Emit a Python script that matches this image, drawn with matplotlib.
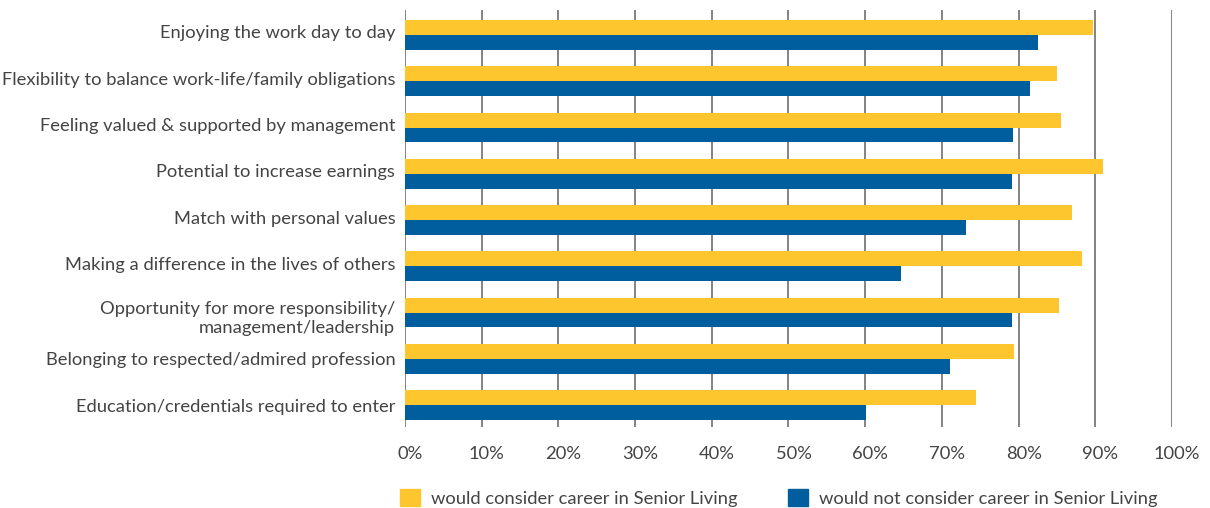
import matplotlib.pyplot as plt
import matplotlib.transforms as mtransforms
import numpy as np
from matplotlib.patches import Patch

plt.rcParams['font.family'] = ['Lato', 'DejaVu Sans']

# survey answers, top to bottom
categories = [
    "Enjoying the work day to day",
    "Flexibility to balance work-life/family obligations",
    "Feeling valued & supported by management",
    "Potential to increase earnings",
    "Match with personal values",
    "Making a difference in the lives of others",
    "Opportunity for more responsibility/\nmanagement/leadership",
    "Belonging to respected/admired profession",
    "Education/credentials required to enter",
]
would_consider = [89.7, 85.0, 85.5, 91.0, 87.0, 88.3, 85.3, 79.4, 74.4]
would_not_consider = [82.5, 81.5, 79.3, 79.1, 73.1, 64.7, 79.1, 71.1, 60.1]
xticks = [0, 10, 20, 30, 40, 50, 60, 70, 80, 90, 100]

yellow = '#FDC52E'
blue = '#005E9E'
txt = '#444444'

fig = plt.figure(figsize=(12.1, 5.08), dpi=100)
ax = fig.add_axes([0.3347, 0.1594, 0.6339, 0.8209])

y = np.arange(len(categories))
h = 0.32
ax.barh(y - h / 2, would_consider, height=h, color=yellow, zorder=2)
ax.barh(y + h / 2, would_not_consider, height=h, color=blue, zorder=2)

for t in xticks:
    ax.axvline(t, color='#6e6e6e', lw=1.2, zorder=1)

ax.set_xlim(0, 100)
ax.set_ylim(8.475, -0.54)
ax.set_yticks(y)
ax.set_yticklabels(categories, fontsize=13.2, color=txt)
ax.set_xticks(xticks)
ax.set_xticklabels([f"{t}%" for t in xticks], fontsize=13.2, color=txt)
ax.tick_params(axis='y', length=0, pad=7)
ax.tick_params(axis='x', length=0, pad=14)
for s in ax.spines.values():
    s.set_visible(False)
# upper labels sit a touch above their bar pair, the two-line one a touch below
up = mtransforms.ScaledTranslation(0, 3 / 100, fig.dpi_scale_trans)
down = mtransforms.ScaledTranslation(0, -3 / 100, fig.dpi_scale_trans)
for i, lbl in enumerate(ax.get_yticklabels()):
    lbl.set_multialignment('right')
    if '\n' in lbl.get_text():
        lbl.set_transform(lbl.get_transform() + down)
    elif i < 6:
        lbl.set_transform(lbl.get_transform() + up)
# percent labels sit a little right of their gridline
shift = mtransforms.ScaledTranslation(5 / 100, 0, fig.dpi_scale_trans)
for lbl in ax.get_xticklabels():
    lbl.set_transform(lbl.get_transform() + shift)

handles = [Patch(color=yellow, label='would consider career in Senior Living'),
           Patch(color=blue, label='would not consider career in Senior Living')]
fig.legend(handles=handles, loc='lower left', bbox_to_anchor=(0.317, -0.03),
           ncol=2, frameon=False, fontsize=13.2, handlelength=1.1, handleheight=1.1,
           handletextpad=0.6, columnspacing=2.75, labelcolor=txt)

fig.savefig('out.png', dpi=100)
